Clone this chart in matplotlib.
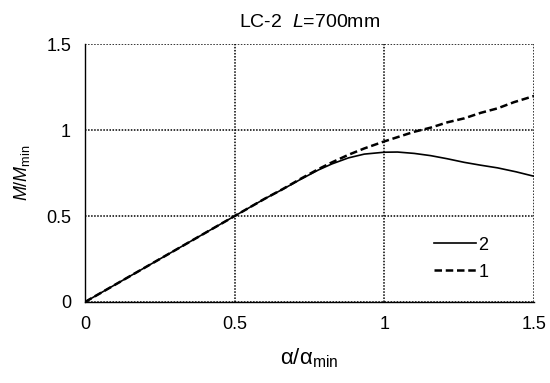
import numpy as np
import matplotlib.pyplot as plt

plt.rcParams['font.family'] = ['Liberation Sans', 'DejaVu Sans']
plt.rcParams['mathtext.fontset'] = 'custom'
plt.rcParams['mathtext.rm'] = 'Liberation Sans'
plt.rcParams['mathtext.it'] = 'Liberation Sans:italic'

# curve 2 (solid) and curve 1 (dashed)
x2 = [0, 0.1, 0.2, 0.3, 0.4, 0.5, 0.6, 0.66, 0.72, 0.78, 0.825, 0.88, 0.933, 1.0, 1.044,
      1.1, 1.155, 1.21, 1.267, 1.32, 1.378, 1.44, 1.5]
y2 = [0, 0.1, 0.2, 0.3, 0.4, 0.5, 0.6, 0.655, 0.713, 0.768, 0.803, 0.838, 0.86, 0.871, 0.872,
      0.864, 0.851, 0.833, 0.812, 0.796, 0.78, 0.757, 0.731]

x1 = [0, 0.1, 0.2, 0.3, 0.4, 0.5, 0.6, 0.66, 0.72, 0.78, 0.825, 0.88, 0.933, 1.0, 1.05,
      1.1, 1.155, 1.211, 1.267, 1.322, 1.378, 1.433, 1.5]
y1 = [0, 0.1, 0.2, 0.3, 0.4, 0.5, 0.6, 0.656, 0.716, 0.773, 0.812, 0.856, 0.893, 0.934, 0.962,
      0.99, 1.014, 1.045, 1.068, 1.1, 1.126, 1.162, 1.198]

fig = plt.figure(figsize=(5.5, 3.83), dpi=100)
ax = fig.add_axes([0.1545, 0.2115, 0.8165, 0.6735])

ax.plot(x2, y2, color='black', lw=1.2, linestyle='-', label='2')
ax.plot(x1, y1, color='black', lw=1.8, linestyle=(0, (3, 1.5)), label='1')

ax.set_xlim(0, 1.5)
ax.set_ylim(0, 1.5)
ax.set_xticks([0, 0.5, 1, 1.5])
ax.set_yticks([0, 0.5, 1, 1.5])
ax.set_xticklabels(['0', '0.5', '1', '1.5'])
ax.set_yticklabels(['0', '0.5', '1', '1.5'])
ax.tick_params(length=0, labelsize=13, pad=10)
ax.grid(True, color='black', linestyle=(0, (1, 1)), lw=1.1)
for s in ['top', 'right']:
    ax.spines[s].set_visible(False)
for s in ['left', 'bottom']:
    ax.spines[s].set_linewidth(1.0)

ax.set_xlabel(r'$\mathrm{\alpha/\alpha_{min}}$', fontsize=16, labelpad=10)
ax.set_ylabel(r'$M/M_{\mathrm{min}}$', fontsize=13, labelpad=10)
ax.set_title(r'LC-2  $L$=700mm', fontsize=14, pad=12)

ax.legend(loc='lower right', bbox_to_anchor=(0.935, 0.02), frameon=False, fontsize=13,
          handlelength=2.3, handletextpad=0.15, labelspacing=0.55)

fig.savefig('out.png', dpi=100)
